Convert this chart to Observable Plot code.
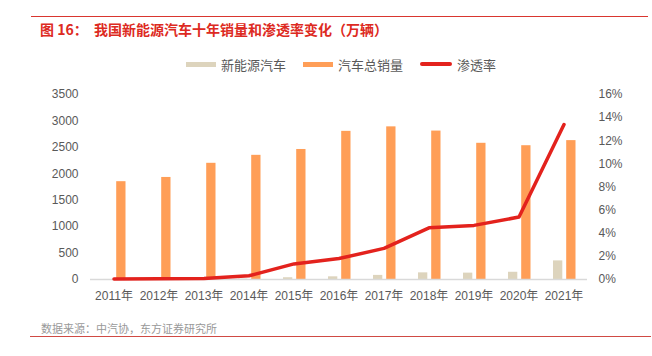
<!DOCTYPE html>
<html>
<head>
<meta charset="utf-8">
<script src="https://cdn.jsdelivr.net/npm/d3@7"></script>
<script src="https://cdn.jsdelivr.net/npm/@observablehq/plot@0.6"></script>
<style>
  html, body { margin: 0; padding: 0; background: #fff; }
  body { width: 652px; height: 356px; position: relative; overflow: hidden;
         font-family: "Liberation Sans", "Noto Sans CJK SC", sans-serif; }
  .topline { position: absolute; left: 31px; top: 16px; width: 617px; height: 1px; background: #d9362f; }
  .title { position: absolute; left: 40px; top: 20px; font-size: 14px; line-height: 18px; font-weight: bold;
           color: #dd2a22; font-family: "Noto Sans CJK SC", sans-serif; white-space: pre; }
  .legend { position: absolute; top: 55px; left: 0; width: 652px; height: 18px; }
  .legend .item { position: absolute; top: 0; height: 18px; display: flex; align-items: center;
                  font-size: 13px; color: #595959; font-family: "Noto Sans CJK SC", sans-serif; }
  .legend .sw { display: inline-block; margin-right: 5px; }
  #chart { position: absolute; left: 0; top: 80px; }
  .foot { position: absolute; left: 41px; top: 320px; font-size: 11px; line-height: 16px; color: #999999;
          font-family: "Noto Sans CJK SC", sans-serif; }
  .botline { position: absolute; left: 30px; top: 336px; width: 621px; height: 1px; background: #d04a44; }
</style>
</head>
<body>
<div class="topline"></div>
<div class="title">图 16：  我国新能源汽车十年销量和渗透率变化（万辆）</div>
<div class="legend" id="legend"></div>
<div id="chart"></div>
<div class="foot">数据来源：中汽协，东方证券研究所</div>
<div class="botline"></div>
<script>
const years = ["2011年","2012年","2013年","2014年","2015年","2016年","2017年","2018年","2019年","2020年","2021年"];
const nevSales = [0.8, 1.3, 1.8, 7.5, 33.1, 50.7, 77.7, 125.6, 120.6, 136.7, 352.1];
const totalSales = [1850.5, 1930.6, 2198.4, 2349.2, 2459.8, 2802.8, 2887.9, 2808.1, 2576.9, 2531.1, 2627.5];
const penetration = [0.04, 0.07, 0.08, 0.32, 1.35, 1.81, 2.69, 4.47, 4.68, 5.4, 13.4];
const leftTicks = [0, 500, 1000, 1500, 2000, 2500, 3000, 3500];
const rightTicks = [0, 2, 4, 6, 8, 10, 12, 14, 16];
const seriesNames = ["新能源汽车", "汽车总销量", "渗透率"];

const colNev = "#ddd4bd";
const colTotal = "#ff9e57";
const colLine = "#e3221d";

const yMax = 3500, pMax = 16;
const toY = p => p / pMax * yMax;

const rows = years.map((y, i) => ({year: y, nev: nevSales[i], total: totalSales[i], pen: penetration[i]}));

const chart = Plot.plot({
  width: 652,
  height: 230,
  marginTop: 14,
  marginBottom: 31,
  marginLeft: 90,
  marginRight: 65,
  style: {fontFamily: "'Liberation Sans', 'Noto Sans CJK SC', sans-serif", fontSize: "12px", color: "#595959"},
  x: {domain: years, padding: 0, label: null},
  y: {domain: [0, yMax], label: null},
  marks: [
    Plot.axisY({ticks: leftTicks, tickSize: 0, tickPadding: 12, label: null, tickFormat: d => String(d),
                fill: "#595959", fontSize: 12}),
    Plot.axisY({anchor: "right", ticks: rightTicks.map(toY), tickSize: 0, tickPadding: 11, label: null,
                tickFormat: (d) => Math.round(d / yMax * pMax) + "%", fill: "#595959", fontSize: 12}),
    Plot.axisX({tickSize: 0, tickPadding: 12, label: null, fill: "#595959", fontSize: 12}),
    Plot.barY(rows, {x: "year", y: "nev", fill: colNev, insetLeft: 12, insetRight: 23.7}),
    Plot.barY(rows, {x: "year", y: "total", fill: colTotal, insetLeft: 25.2, insetRight: 10.5}),
    Plot.ruleY([0], {stroke: "#d9d9d9", strokeWidth: 1.5}),
    Plot.lineY(rows, {x: "year", y: d => toY(d.pen), stroke: colLine, strokeWidth: 3.5,
                      strokeLinejoin: "round", strokeLinecap: "round"})
  ]
});
document.getElementById("chart").appendChild(chart);

// legend
const legend = document.getElementById("legend");
const legendItems = [
  {name: seriesNames[0], left: 186, sw: `<span class="sw" style="width:30px;height:5px;background:${colNev}"></span>`},
  {name: seriesNames[1], left: 303, sw: `<span class="sw" style="width:30px;height:5px;background:${colTotal}"></span>`},
  {name: seriesNames[2], left: 420, sw: `<span class="sw" style="width:32px;height:3.5px;border-radius:2px;background:${colLine}"></span>`}
];
for (const it of legendItems) {
  const d = document.createElement("div");
  d.className = "item";
  d.style.left = it.left + "px";
  d.innerHTML = it.sw + `<span>${it.name}</span>`;
  legend.appendChild(d);
}
</script>
</body>
</html>
